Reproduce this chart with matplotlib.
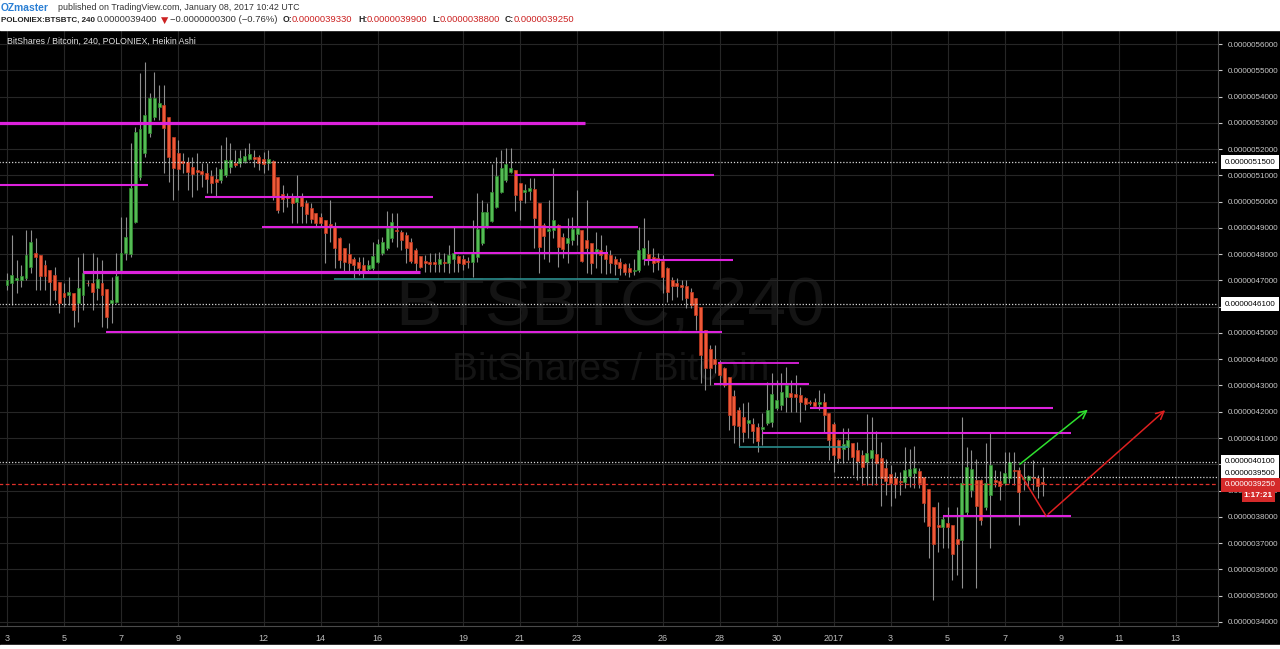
import matplotlib
matplotlib.use('Agg')
import matplotlib.pyplot as plt
import matplotlib.dates as mdates
import matplotlib.transforms as mtrans
from matplotlib.patches import Rectangle
import numpy as np
import pandas as pd

plt.rcParams['font.family'] = ['Liberation Sans', 'DejaVu Sans']

# heikin ashi 4h candles, BTSBTC, price in 1e-10 BTC, first candle 2016-12-03 00:00
ha_open = [
    46825, 46914, 47000, 47016, 47079, 47523, 48031, 47967, 47587, 47396,
    47206, 46952, 46534, 46445, 46508, 46153, 46445, 46914, 46889, 46698,
    46889, 46660, 46153, 46191, 47333, 48031, 48005, 49236, 50950, 51838,
    52599, 53234, 53614, 53678, 53234, 52472, 51863, 51559, 51521, 51330,
    51203, 51178, 51102, 50975, 50848, 50823, 51013, 51305, 51457, 51457,
    51559, 51609, 51711, 51685, 51609, 51483, 51559, 50950, 50290, 50188,
    50163, 50000, 50163, 49934, 49744, 49554, 49427, 49300, 49135, 49046,
    48628, 48221, 47993, 47816, 47689, 47587, 47435, 47485, 47714, 48031,
    48221, 48602, 48920, 48856, 48729, 48475, 48158, 47942, 47740, 47714,
    47689, 47612, 47714, 47650, 47816, 47942, 47816, 47740, 47714, 47905,
    48411, 49046, 49262, 49808, 50379, 50823, 51140, 51204, 50696, 50379,
    50404, 50480, 49935, 49110, 48881, 48920, 49110, 48666, 48412, 48539,
    48754, 48920, 48526, 48412, 48069, 48158, 48094, 47968, 47816, 47714,
    47612, 47460, 47358, 47396, 47816, 47993, 47905, 47866, 47752, 47460,
    47016, 46914, 46825, 46787, 46571, 46318, 46000, 45112, 44376, 43995,
    43907, 43653, 43336, 42599, 42066, 41787, 41584, 41533, 41406, 41330,
    41584, 41622, 42130, 42257, 42549, 42726, 42675, 42637, 42510, 42384,
    42384, 42295, 42384, 41950, 41533, 40924, 40569, 40670, 40797, 40544,
    40353, 40099, 40226, 40391, 40226, 39846, 39630, 39465, 39376, 39338,
    39554, 39681, 39757, 39503, 39046, 38361, 37688, 37600, 37752, 37688,
    37143, 37117, 38171, 39021, 39402, 39402, 38386, 38830, 39402, 39376,
    39275, 39465, 39782, 39782, 39427, 39402, 39503, 39465, 39330]
ha_high = [
    47269, 48729, 47777, 47587, 48919, 48919, 48602, 47967, 47777, 47396,
    47523, 46952, 46889, 47142, 46508, 47904, 48031, 47000, 48031, 47904,
    47777, 46660, 47142, 48031, 49427, 49427, 52219, 52853, 54883, 55328,
    54122, 54947, 54439, 54439, 53234, 52472, 52346, 51838, 51711, 51711,
    51838, 51457, 51457, 51203, 51330, 52155, 52472, 52219, 51965, 51965,
    52028, 52244, 51965, 51774, 51901, 51965, 51584, 50950, 50632, 50315,
    50315, 51013, 50315, 50061, 49934, 49554, 49554, 49300, 50061, 49237,
    48665, 48221, 48411, 47905, 47905, 47905, 47778, 48475, 48577, 48665,
    49643, 49554, 49554, 48920, 48856, 48602, 48221, 47942, 47968, 48031,
    48031, 48094, 48031, 48348, 49046, 47968, 47968, 47905, 49300, 50315,
    50061, 49935, 51419, 51711, 51965, 52054, 52054, 51204, 50696, 50658,
    50886, 50886, 49935, 49173, 50062, 51267, 49135, 48793, 49364, 49427,
    50442, 48920, 50062, 48412, 48856, 48729, 48348, 48158, 47942, 47866,
    47650, 47650, 47816, 49046, 49364, 48539, 48221, 48031, 47967, 47523,
    47143, 47079, 47016, 47016, 46698, 46318, 46000, 45112, 44541, 44541,
    43970, 43691, 43336, 42828, 42193, 42320, 42384, 41749, 41584, 41940,
    43145, 43462, 43208, 43462, 43691, 43208, 43399, 42955, 42574, 42447,
    42510, 42828, 42701, 41950, 41622, 40949, 41368, 41368, 40823, 40861,
    40544, 41914, 41787, 41280, 40861, 40188, 39972, 39719, 39719, 40670,
    40569, 40696, 39846, 39503, 39046, 38387, 38577, 38069, 38386, 37688,
    38387, 41813, 40670, 40543, 40188, 39427, 40797, 41178, 39782, 39757,
    40480, 40480, 40480, 39909, 40036, 39592, 40163, 39592, 39900]
ha_low = [
    46635, 46064, 46508, 46762, 47016, 47269, 46635, 46635, 46635, 46064,
    46254, 45747, 46001, 46064, 45239, 45430, 45874, 46800, 45874, 46254,
    45239, 45176, 45366, 46127, 47269, 47777, 47904, 49173, 50823, 51711,
    52472, 53107, 53107, 51076, 50759, 50061, 50442, 51076, 50442, 50188,
    50442, 50569, 50315, 50315, 50188, 50696, 50950, 51076, 51330, 51330,
    51457, 51584, 51330, 51203, 51076, 51203, 50061, 49554, 49617, 49807,
    49173, 49173, 49173, 49173, 49173, 49046, 49046, 47650, 48475, 47460,
    47460, 47270, 47333, 47079, 47206, 47079, 47333, 47396, 47650, 47968,
    48158, 48475, 48285, 48158, 47650, 47650, 47270, 47460, 47333, 47333,
    47333, 47333, 47333, 47270, 47333, 47333, 47396, 47460, 47143, 47714,
    48348, 48983, 49237, 49745, 50315, 50760, 51077, 49643, 49300, 49935,
    50062, 48221, 47270, 47816, 47714, 48602, 47523, 47841, 47650, 48348,
    48348, 47714, 47270, 47232, 47460, 47270, 47232, 47270, 47206, 47206,
    47206, 47143, 47206, 47333, 47587, 47587, 47333, 47396, 46508, 46191,
    46254, 46381, 46254, 45937, 45937, 45112, 43082, 42828, 43018, 43462,
    43018, 42955, 41305, 40797, 40670, 40861, 40988, 40797, 40480, 40734,
    41495, 41432, 42066, 42066, 42003, 42003, 42003, 41622, 42066, 42257,
    42193, 42066, 41178, 40163, 39719, 40036, 40036, 40163, 39592, 39401,
    39211, 39211, 39211, 39211, 38412, 38831, 38412, 38704, 38831, 39084,
    39122, 39084, 39084, 37815, 36419, 34833, 36673, 36800, 36800, 35594,
    35784, 35277, 38069, 38767, 35277, 37688, 38259, 36800, 39148, 38640,
    39211, 39275, 39211, 37688, 39021, 39148, 39021, 38704, 38800]
ha_close = [
    47016, 47206, 47079, 47168, 47967, 48475, 47904, 47168, 47168, 46952,
    46635, 46127, 46381, 46546, 45874, 46698, 47269, 46889, 46572, 47041,
    46445, 45620, 46254, 47168, 48031, 48665, 50505, 52663, 52751, 53297,
    53932, 53932, 53767, 52790, 51711, 51267, 51229, 51457, 51140, 51051,
    51140, 51051, 50848, 50721, 50759, 51229, 51584, 51584, 51406, 51673,
    51736, 51812, 51622, 51483, 51432, 51609, 50188, 49681, 50087, 50125,
    49934, 50188, 49833, 49528, 49325, 49173, 49173, 48818, 49060, 48247,
    47778, 47714, 47650, 47587, 47460, 47333, 47587, 47942, 48374, 48450,
    48983, 49212, 48880, 48539, 48247, 47740, 47650, 47523, 47650, 47637,
    47612, 47816, 47650, 47968, 48031, 47650, 47637, 47700, 48031, 48958,
    49617, 49617, 50353, 50988, 51267, 51419, 51267, 50252, 50062, 50442,
    50531, 49389, 48285, 48704, 48958, 49300, 48285, 48196, 48628, 48958,
    49008, 47740, 48247, 47650, 48196, 47968, 47816, 47650, 47612, 47460,
    47308, 47308, 47400, 48158, 48247, 47816, 47650, 47714, 47143, 46571,
    46787, 46787, 46736, 46318, 46064, 45683, 44160, 43653, 43653, 43818,
    43399, 43018, 41877, 41495, 41457, 41242, 41673, 41280, 40899, 41406,
    42066, 42675, 42447, 42764, 43018, 42574, 42549, 42384, 42295, 42346,
    42219, 42384, 41876, 40924, 40353, 40226, 40772, 40924, 40264, 40138,
    39909, 40416, 40543, 40036, 39465, 39376, 39275, 39249, 39325, 39782,
    39808, 39846, 39275, 38539, 37650, 36965, 37600, 37904, 37625, 36584,
    36965, 39275, 39884, 39808, 38412, 37879, 39275, 39972, 39338, 39173,
    39681, 40099, 39731, 38958, 39528, 39554, 39465, 39173, 39250]

# drawn support / resistance levels
magenta_price = [53000, 50650, 51010, 50170, 49040, 48060, 47780, 47330,
                 45050, 43870, 43060, 42130, 41200, 38030]
magenta_start = ['2016-12-02 12:00', '2016-12-02 12:00', '2016-12-20 20:00',
                 '2016-12-09 23:00', '2016-12-11 23:00', '2016-12-18 16:00',
                 '2016-12-25 08:00', '2016-12-05 16:00', '2016-12-06 11:00',
                 '2016-12-27 23:00', '2016-12-27 19:00', '2016-12-31 04:00',
                 '2016-12-29 12:00', '2017-01-04 20:00']
magenta_end = ['2016-12-23 07:00', '2016-12-07 23:00', '2016-12-27 19:00',
               '2016-12-17 23:00', '2016-12-25 03:00', '2016-12-24 02:00',
               '2016-12-28 11:00', '2016-12-17 12:00', '2016-12-28 02:00',
               '2016-12-30 19:00', '2016-12-31 03:00', '2017-01-08 17:00',
               '2017-01-09 08:00', '2017-01-09 08:00']
teal_price = [47050, 40650]
teal_start = ['2016-12-14 11:00', '2016-12-28 16:00']
teal_end = ['2016-12-24 11:00', '2017-01-01 12:00']
marked_price = [51500, 46100, 40100, 39500]
marked_start = ['2016-12-01', '2016-12-01', '2016-12-01', '2017-01-01 00:00']
last_price = 39250

green_arrow_t = ['2017-01-07 11:00', '2017-01-10 00:00']
green_arrow_p = [39935, 42143]
red_path_t = ['2017-01-07 14:00', '2017-01-08 11:00', '2017-01-12 17:00']
red_path_p = [39592, 38031, 42130]

tick_dates = ['2016-12-03', '2016-12-05', '2016-12-07', '2016-12-09', '2016-12-12',
              '2016-12-14', '2016-12-16', '2016-12-19', '2016-12-21', '2016-12-23',
              '2016-12-26', '2016-12-28', '2016-12-30', '2017-01-01', '2017-01-03',
              '2017-01-05', '2017-01-07', '2017-01-09', '2017-01-11', '2017-01-13']
tick_labels = ['3', '5', '7', '9', '12', '14', '16', '19', '21', '23', '26', '28',
               '30', '2017', '3', '5', '7', '9', '11', '13']
# price ticks whose label sits under a marked-price box
hidden_ticks = [46000, 40000]


def dnum(s):
    return mdates.date2num(pd.to_datetime(s))


fig = plt.figure(figsize=(12.8, 6.49), dpi=100, facecolor='black')
fig.patches.append(Rectangle((0, 1 - 30 / 649), 1, 30 / 649, transform=fig.transFigure,
                             color='white', zorder=0))
fig.patches.append(Rectangle((0, 0), 1, 4 / 649, transform=fig.transFigure,
                             color='white', zorder=0))
ax = fig.add_axes([0, 1 - 626 / 649, 1218 / 1280, 596 / 649])
ax.set_facecolor('black')

# candles
times = pd.date_range('2016-12-03 00:00', periods=len(ha_open), freq='4h')
x = mdates.date2num(times)
o = np.array(ha_open)
h = np.array(ha_high)
l = np.array(ha_low)
c = np.array(ha_close)
up = c >= o
ax.vlines(x, l, h, color='#8f8f8f', lw=0.8, zorder=3)
ax.bar(x[up], (c - o)[up], bottom=o[up], width=0.105, color='#55bb55',
       edgecolor='#2e8b2e', lw=0.5, zorder=4)
ax.bar(x[~up], (o - c)[~up], bottom=c[~up], width=0.105, color='#ee5a38',
       edgecolor='#c2381f', lw=0.5, zorder=4)

# levels
mag_lw = [2.3, 1.5, 1.5, 1.5, 1.5, 1.5, 1.5, 2.3, 1.5, 1.3, 1.5, 1.5, 1.5, 1.5]
for p, s, e, w in zip(magenta_price, magenta_start, magenta_end, mag_lw):
    ax.hlines(p, dnum(s), dnum(e), color='#dd22dd', lw=w, zorder=5)
for p, s, e in zip(teal_price, teal_start, teal_end):
    ax.hlines(p, dnum(s), dnum(e), color='#2a8c8c', lw=1.2, zorder=5)
for p, s in zip(marked_price, marked_start):
    ax.hlines(p, dnum(s), dnum('2017-01-20'), color='#d8d8d8', lw=0.9,
              linestyles=(0, (1, 1.5)), zorder=5)
ax.hlines(last_price, dnum('2016-12-01'), dnum('2017-01-20'), color='#e0302a', lw=0.9,
          linestyles=(0, (3, 2)), zorder=5)

# projection arrows
ax.annotate('', xy=(dnum(green_arrow_t[1]), green_arrow_p[1]),
            xytext=(dnum(green_arrow_t[0]), green_arrow_p[0]),
            arrowprops=dict(arrowstyle='->', color='#2ee02e', lw=1.1, mutation_scale=14),
            zorder=6)
rx = [dnum(t) for t in red_path_t]
ax.plot(rx[:2], red_path_p[:2], color='#dd2020', lw=1.1, zorder=6)
ax.annotate('', xy=(rx[2], red_path_p[2]), xytext=(rx[1], red_path_p[1]),
            arrowprops=dict(arrowstyle='->', color='#dd2020', lw=1.1, mutation_scale=14),
            zorder=6)

# axes
ax.set_xlim(dnum('2016-12-03') - 0.2456, dnum('2016-12-03') + 42.49)
ax.set_ylim(33843, 56533)
ax.set_xticks([dnum(d) for d in tick_dates])
ax.set_xticklabels(tick_labels)
yt = list(range(34000, 57000, 1000))
ax.yaxis.tick_right()
ax.set_yticks(yt)
ax.set_yticklabels(['' if v in hidden_ticks else '0.%010d' % v for v in yt])
ax.tick_params(axis='y', colors='#c8c8c8', labelsize=5.8, length=3, pad=4)
ax.tick_params(axis='x', colors='#bdbdbd', labelsize=6.5, length=0, pad=6)
ax.grid(True, color='#262626', lw=0.8)
ax.set_axisbelow(True)
for side in ['left', 'top']:
    ax.spines[side].set_visible(False)
for side in ['right', 'bottom']:
    ax.spines[side].set_color('#4a4a4a')

# watermark and title
ax.text(0.501, 0.535, 'BTSBTC, 240', transform=ax.transAxes, fontsize=50,
        color='#141414', ha='center', va='center', zorder=0.5)
ax.text(0.501, 0.43, 'BitShares / Bitcoin', transform=ax.transAxes, fontsize=28,
        color='#141414', ha='center', va='center', zorder=0.5)
ax.text(7 / 1218, 1 - 11 / 596, 'BitShares / Bitcoin, 240, POLONIEX, Heikin Ashi',
        transform=ax.transAxes, fontsize=6.3, color='#e0e0e0', va='center')

# price labels on axis
trans = mtrans.blended_transform_factory(ax.transAxes, ax.transData)
label_shift = [0, 0, 0, 4]
for p, dy in zip(marked_price, label_shift):
    ax.annotate('0.%010d' % p, xy=(1.0, p), xycoords=trans, xytext=(7, dy),
                textcoords='offset pixels', fontsize=5.8, color='black',
                va='center', ha='left', annotation_clip=False, zorder=10,
                bbox=dict(boxstyle='square,pad=0.45', fc='white', ec='none'))
ax.annotate('0.%010d' % last_price, xy=(1.0, last_price), xycoords=trans,
            xytext=(7, -1), textcoords='offset pixels', fontsize=5.8, color='white',
            va='center', ha='left', annotation_clip=False, zorder=11,
            bbox=dict(boxstyle='square,pad=0.45', fc='#d42a2a', ec='none'))
ax.annotate('1:17:21', xy=(1.0, last_price), xycoords=trans, xytext=(55, -12),
            textcoords='offset pixels', fontsize=6, color='white', fontweight='bold',
            ha='right', va='center', annotation_clip=False, zorder=11,
            bbox=dict(boxstyle='square,pad=0.25', fc='#d42a2a', ec='none'))

# header
def ftext(px, py, s, size=6.8, **kw):
    fig.text(px / 1280, 1 - py / 649, s, va='center', ha='left', fontsize=size, **kw)

ftext(1, 8, 'OZmaster', size=7.4, color='#2a7fd4', fontweight='bold')
ftext(58, 8, 'published on TradingView.com, January 08, 2017 10:42 UTC', size=6.4,
      color='#333333')
ftext(1, 20, 'POLONIEX:BTSBTC, 240', size=5.8, color='#222222', fontweight='bold')
ftext(97, 20, '0.0000039400', color='#333333')
ftext(161, 20, '\u25bc', color='#cc2222', family=['DejaVu Sans'])
ftext(170, 20, '\u22120.0000000300 (\u22120.76%)', color='#333333')
ftext(283, 20, 'O:', size=6.2, color='#222222', fontweight='bold')
ftext(292, 20, '0.0000039330', color='#cc2222')
ftext(358, 20, 'H:', size=6.2, color='#222222', fontweight='bold')
ftext(367, 20, '0.0000039900', color='#cc2222')
ftext(432, 20, 'L:', size=6.2, color='#222222', fontweight='bold')
ftext(440, 20, '0.0000038800', color='#cc2222')
ftext(505, 20, 'C:', size=6.2, color='#222222', fontweight='bold')
ftext(514, 20, '0.0000039250', color='#cc2222')

fig.savefig('out.png', dpi=100, facecolor=fig.get_facecolor())
